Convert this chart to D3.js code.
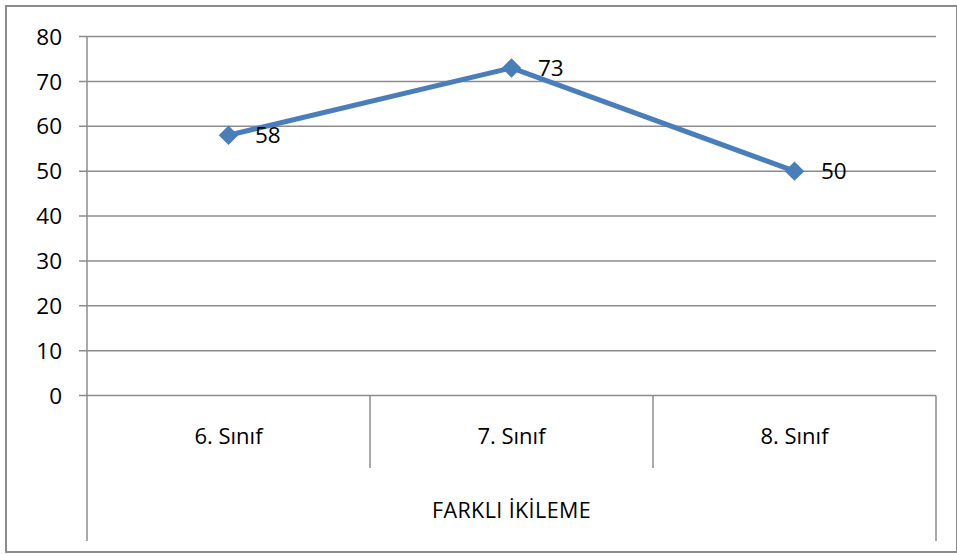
<!DOCTYPE html>
<html><head><meta charset="utf-8">
<script src="https://cdn.jsdelivr.net/npm/d3@7"></script>
<style>body{margin:0;background:#fff}svg{display:block}</style>
</head><body>
<script>
const categories = ["6. Sınıf", "7. Sınıf", "8. Sınıf"];
const groupLabel = "FARKLI İKİLEME";
const values = [58, 73, 50];
const yTicks = [0, 10, 20, 30, 40, 50, 60, 70, 80];

const W = 957, H = 554;
const svg = d3.select("body").append("svg").attr("width", W).attr("height", H);
const font = "'Open Sans', 'Noto Sans', sans-serif";
const grid = "#8c8c8c";

svg.append("rect").attr("x", 6).attr("y", 6).attr("width", W - 6).attr("height", 546)
  .attr("fill", "#fff").attr("stroke", grid).attr("stroke-width", 2);

const pL = 87, pR = 936, pT = 36.5, pB = 395.5;
const x = d3.scaleBand().domain(categories).range([pL, pR]).padding(0);
const y = d3.scaleLinear().domain([0, 80]).range([pB, pT]);

// gridlines
svg.append("g").selectAll("line").data(yTicks).join("line")
  .attr("x1", pL - 8).attr("x2", pR).attr("y1", d => y(d)).attr("y2", d => y(d))
  .attr("stroke", grid).attr("stroke-width", 1.5);

// y axis labels
svg.append("g").selectAll("text").data(yTicks).join("text")
  .attr("x", 62).attr("y", d => y(d) + 8.2).attr("text-anchor", "end")
  .attr("font-family", font).attr("font-size", 22.5).attr("fill", "#000").text(d => d);

// vertical axis & category dividers
svg.append("line").attr("x1", pL).attr("x2", pL).attr("y1", pT).attr("y2", 541)
  .attr("stroke", grid).attr("stroke-width", 1.5);
svg.append("line").attr("x1", pR).attr("x2", pR).attr("y1", pB).attr("y2", 541)
  .attr("stroke", grid).attr("stroke-width", 1.5);
svg.append("g").selectAll("line").data(categories.slice(1)).join("line")
  .attr("x1", d => x(d)).attr("x2", d => x(d)).attr("y1", pB).attr("y2", 468)
  .attr("stroke", grid).attr("stroke-width", 1.5);

// category labels
svg.append("g").selectAll("text").data(categories).join("text")
  .attr("x", d => x(d) + x.bandwidth() / 2).attr("y", 444).attr("text-anchor", "middle")
  .attr("font-family", font).attr("font-size", 22).attr("fill", "#000").text(d => d);
svg.append("text").attr("x", (pL + pR) / 2).attr("y", 518).attr("text-anchor", "middle")
  .attr("font-family", font).attr("font-size", 21.5).attr("letter-spacing", 0.4)
  .attr("fill", "#000").text(groupLabel);

// line
const cx = (d, i) => x(categories[i]) + x.bandwidth() / 2;
const line = d3.line().x((d, i) => cx(d, i)).y(d => y(d));
svg.append("path").datum(values).attr("d", line).attr("fill", "none")
  .attr("stroke", "#4a7ebb").attr("stroke-width", 5).attr("stroke-linejoin", "round");

svg.append("g").selectAll("path").data(values).join("path")
  .attr("d", d3.symbol(d3.symbolSquare, 190))
  .attr("transform", (d, i) => `translate(${cx(d, i)},${y(d)}) rotate(45)`)
  .attr("fill", "#4a7ebb");

svg.append("g").selectAll("text").data(values).join("text")
  .attr("x", (d, i) => cx(d, i) + 26.5).attr("y", d => y(d) + 8.2)
  .attr("font-family", font).attr("font-size", 22.5).attr("fill", "#000").text(d => d);
</script>
</body></html>
